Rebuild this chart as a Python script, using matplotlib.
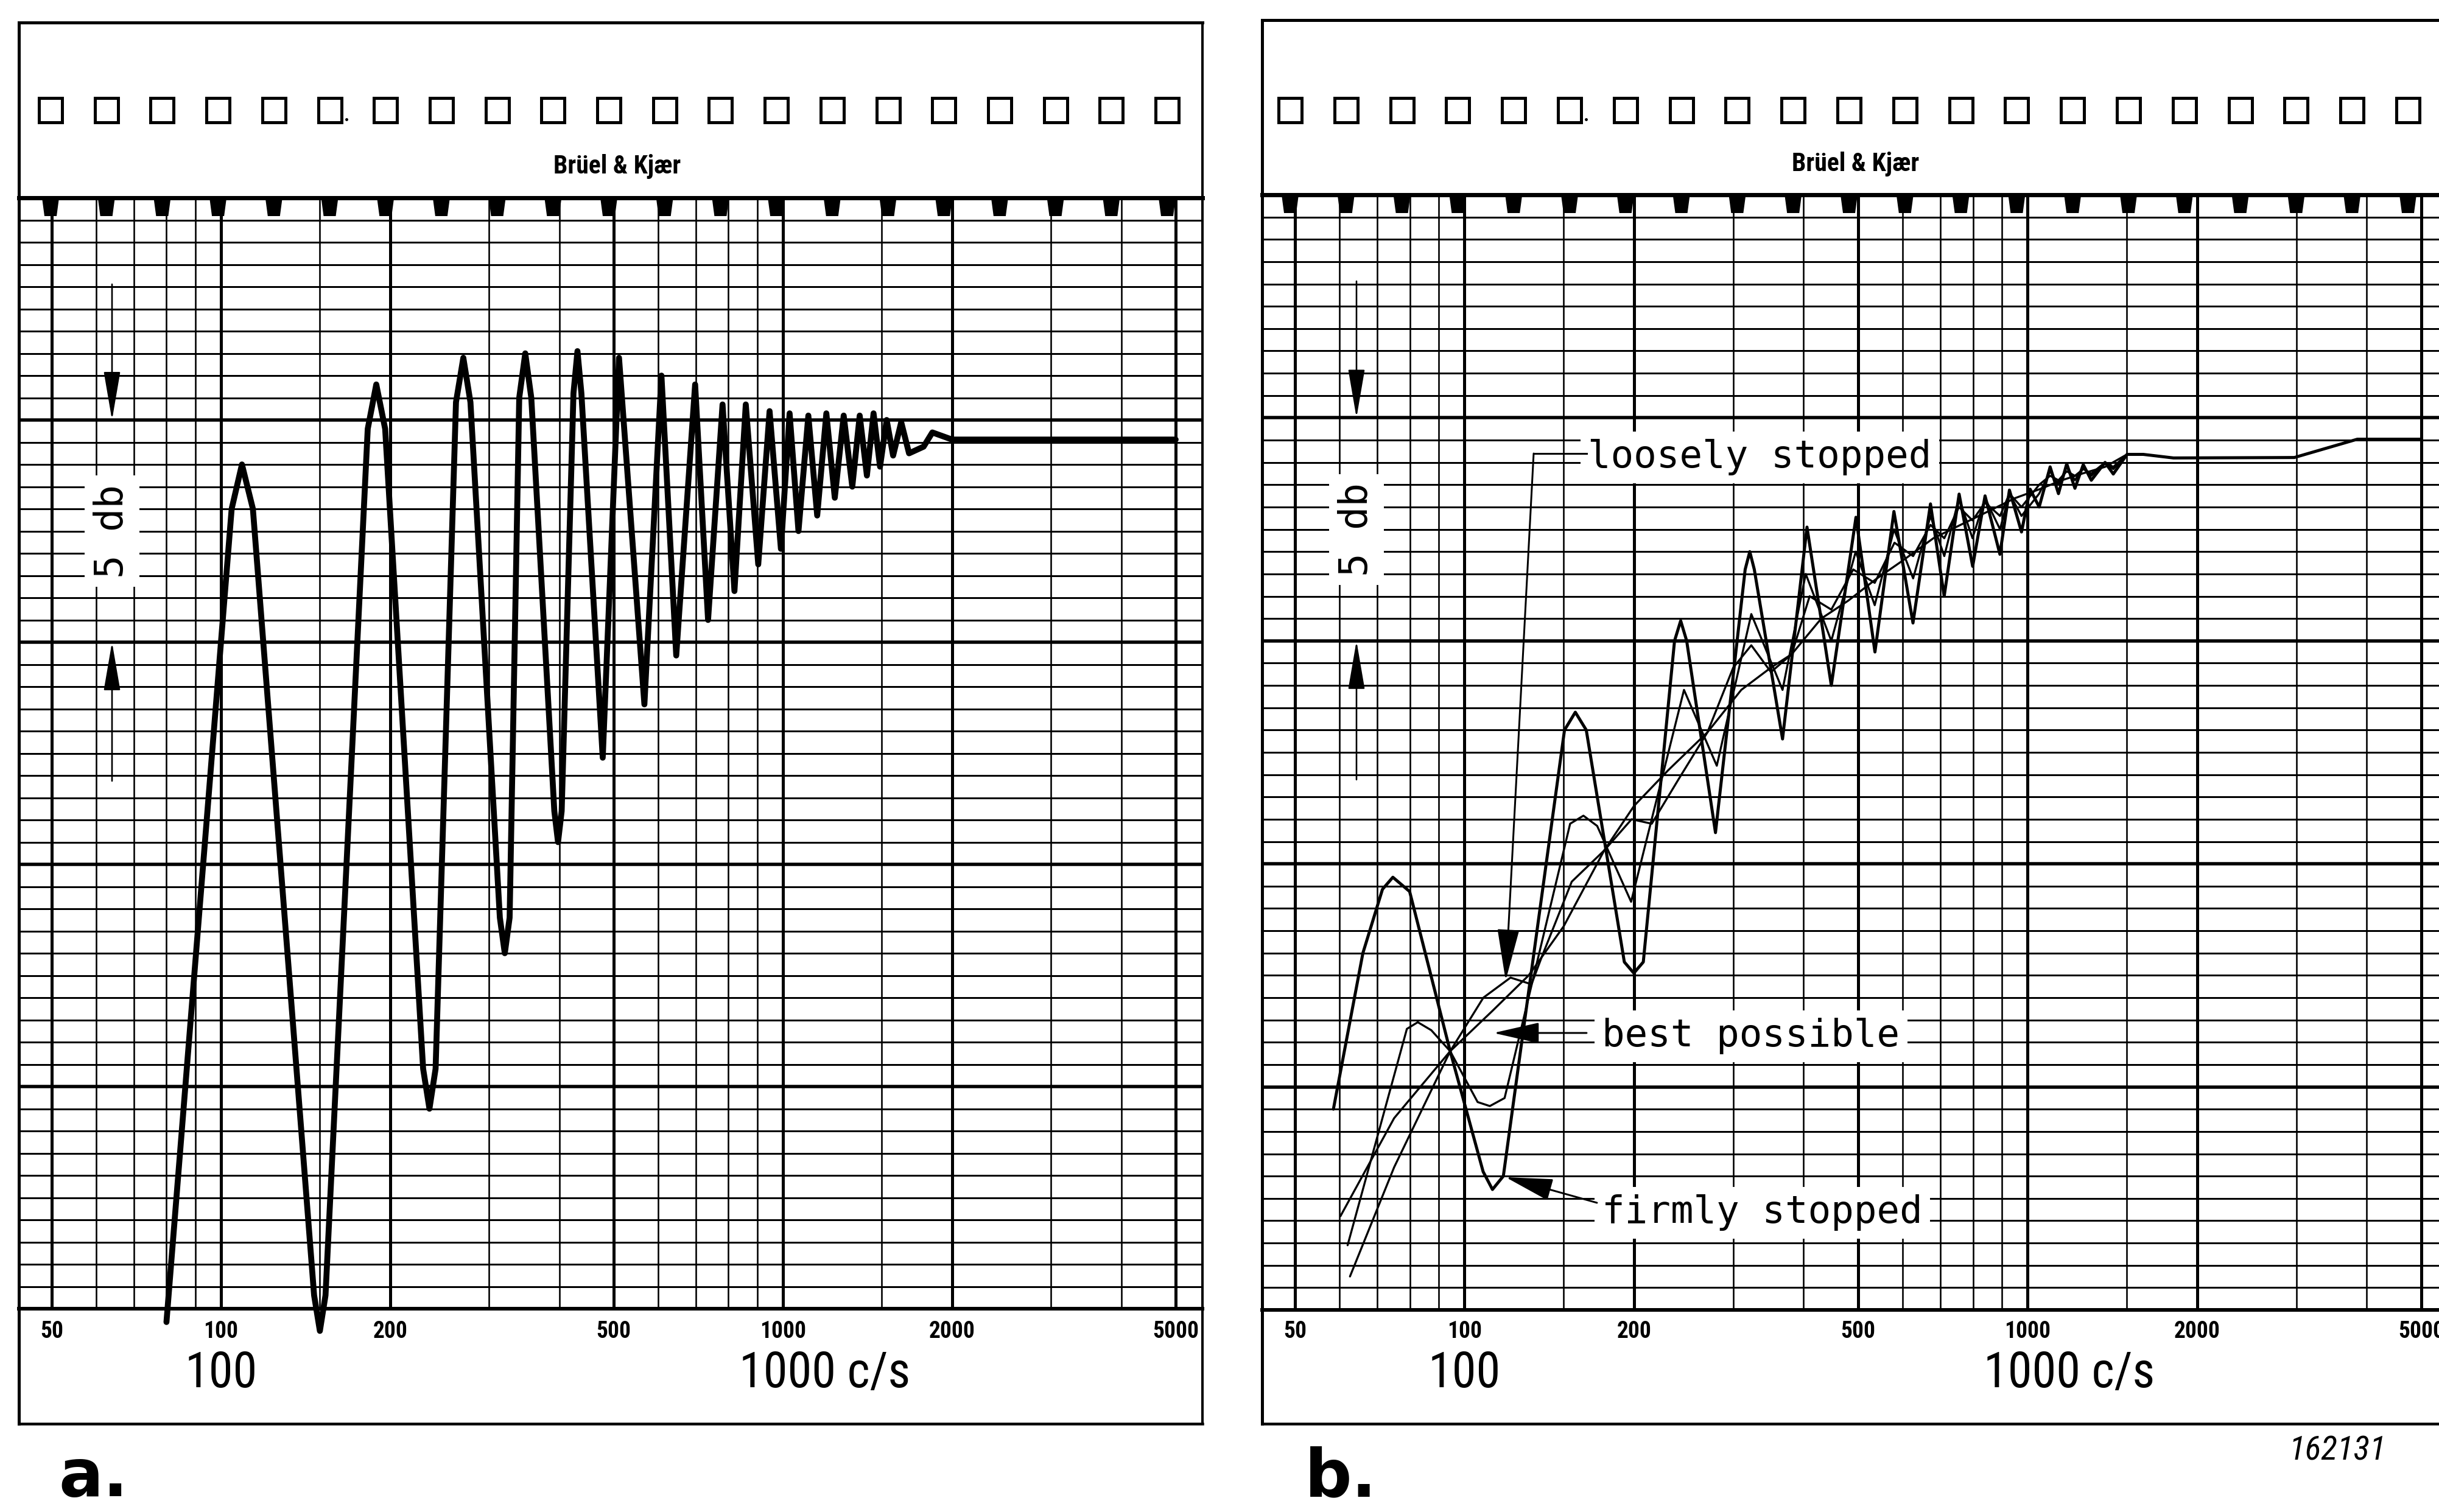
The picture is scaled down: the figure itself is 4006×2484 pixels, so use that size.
import matplotlib
matplotlib.use("Agg")
import matplotlib.pyplot as plt
from matplotlib import font_manager as fm
from matplotlib.patches import Rectangle, Polygon

# ---------------------------------------------------------------- data
grid_freqs = [50, 60, 70, 80, 90, 100, 150, 200, 300, 400, 500, 600, 700,
              800, 900, 1000, 1500, 2000, 3000, 4000, 5000]
heavy_freqs = [50, 100, 200, 500, 1000, 2000, 5000]
tick_freqs = [50, 100, 200, 500, 1000, 2000, 5000]
tick_labels = ["50", "100", "200", "500", "1000", "2000", "5000"]
grid_levels = [i * 0.5 for i in range(51)]          # 0 ... 25 dB chart paper

# a. open tube
freq_open = [80, 104.5, 109, 114, 146.5, 150, 153.5, 182.5, 189, 196, 229, 235, 241,
             262, 270, 278, 313.6, 320, 326.4, 339.5, 348, 356.7, 392, 398, 404,
             424, 431, 438, 478, 511, 567, 608, 646, 698, 736, 781, 820, 859, 904,
             947, 992, 1028, 1066, 1110, 1151, 1195, 1237, 1283, 1329, 1370, 1411,
             1450, 1489, 1530, 1571, 1624, 1677, 1780, 1845, 2000, 5000]
level_open = [-0.3, 18.0, 19.0, 18.0, 0.3, -0.5, 0.3, 19.8, 20.8, 19.8, 5.4, 4.5, 5.4,
              20.4, 21.4, 20.4, 8.8, 8.0, 8.8, 20.5, 21.5, 20.5, 11.2, 10.5, 11.2,
              20.6, 21.55, 20.6, 12.4, 21.4, 13.6, 21.0, 14.7, 20.8, 15.5, 20.35, 16.15,
              20.35, 16.75, 20.2, 17.1, 20.15, 17.5, 20.1, 17.85, 20.15, 18.25, 20.1,
              18.5, 20.1, 18.75, 20.15, 18.95, 20.0, 19.2, 19.95, 19.25, 19.4, 19.72,
              19.56, 19.56]

# b. stopped tube
freq_firm = [58.5, 66, 71.5, 74.6, 79.9, 94.3, 107.9, 112.1, 117.2, 150.5, 157.3, 164.5,
             192.2, 199.8, 207.7, 236, 242, 248, 279, 315, 321, 327, 367, 405.6, 448,
             495.5, 535.5, 578.7, 625.6, 672, 710.7, 755.5, 798.5, 840, 892.6, 928, 975,
             1010, 1048, 1096, 1134, 1173, 1213, 1255, 1297, 1372, 1419, 1501, 1604,
             1815, 2975, 3848, 5000]
level_firm = [4.5, 8.0, 9.43, 9.7, 9.38, 5.8, 3.1, 2.7, 3.0, 13.0, 13.4, 13.0,
              7.8, 7.55, 7.8, 15.0, 15.45, 15.0, 10.7, 16.6, 17.0, 16.6, 12.8, 17.55, 14.0,
              17.77, 14.75, 17.9, 15.4, 18.07, 16.0, 18.29, 16.67, 18.25, 16.94, 18.38, 17.44,
              18.4, 18.0, 18.9, 18.3, 18.97, 18.42, 18.95, 18.6, 19.0, 18.74, 19.18, 19.18,
              19.1, 19.11, 19.52, 19.52]

freq_mid = [62, 79, 82.6, 87.3, 94.3, 105.5, 110.9, 117.8, 154, 162.6, 172, 197.6, 245.3,
            280.5, 323, 367, 403.5, 448, 495, 535, 579, 626, 672, 711, 755, 798, 840,
            893, 928, 975, 1048, 1096, 1134, 1173, 1213, 1255, 1297, 1372, 1419, 1501,
            1604, 1815, 2975, 3848, 5000]
level_mid = [1.45, 6.3, 6.45, 6.27, 5.8, 4.66, 4.57, 4.75, 10.9, 11.08, 10.85, 9.15, 13.9,
             12.2, 15.6, 13.9, 16.5, 15.0, 17.0, 15.8, 17.5, 16.4, 17.8, 16.9, 18.2, 17.3,
             18.2, 17.5, 18.3, 17.8, 18.3, 18.8, 18.5, 18.9, 18.6, 18.9, 18.7, 19.0, 18.85,
             19.18, 19.18, 19.1, 19.11, 19.52, 19.52]

freq_loose = [60.2, 75, 94.3, 108, 120.7, 131.5, 137, 155, 177, 198, 215, 240, 270, 300,
              323, 350, 381, 410, 448, 490, 535, 580, 626, 672, 711, 755, 798, 840, 893,
              928, 975, 1048, 1096, 1134, 1173, 1213, 1255, 1297, 1372, 1419, 1501, 1604,
              1815, 2975, 3848, 5000]
level_loose = [2.1, 4.3, 5.8, 7.0, 7.45, 7.3, 7.9, 9.6, 10.3, 11.0, 10.9, 11.9, 12.95, 14.4,
               14.9, 14.3, 14.7, 16.0, 15.7, 16.6, 16.3, 17.2, 16.9, 17.6, 17.3, 18.0, 17.7,
               18.1, 17.8, 18.3, 18.0, 18.5, 18.7, 18.6, 18.8, 18.7, 18.85, 18.75, 19.0,
               18.9, 19.18, 19.18, 19.1, 19.11, 19.52, 19.52]

freq_best = [62.6, 75, 94.3, 112, 130, 150, 177, 200, 230, 270, 310, 350, 381, 430, 480,
             540, 600, 680, 760, 850, 950, 1050, 1150, 1250, 1372, 1501, 1604, 1815, 2975,
             3848, 5000]
level_best = [0.75, 3.2, 5.8, 6.7, 7.5, 8.6, 10.3, 11.3, 12.1, 12.95, 13.9, 14.4, 14.7, 15.5,
              15.9, 16.4, 16.8, 17.3, 17.6, 17.9, 18.2, 18.4, 18.6, 18.75, 18.9, 19.18, 19.18,
              19.1, 19.11, 19.52, 19.52]

labels_b = ["loosely stopped", "best possible", "firmly stopped"]


# ---------------------------------------------------------------- fonts
def has_font(name):
    try:
        fm.findfont(fm.FontProperties(family=name), fallback_to_default=False)
        return True
    except Exception:
        return False


NARROW, NSCALE = "DejaVu Sans", 0.8
for cand in ["Liberation Sans Narrow", "Roboto Condensed", "Archivo Narrow",
             "PT Sans Narrow", "Fira Sans Condensed", "IBM Plex Sans Condensed",
             "Barlow Condensed", "Encode Sans Condensed", "Asap Condensed",
             "Sofia Sans Condensed", "Saira Condensed", "Open Sans Condensed",
             "Ubuntu Condensed"]:
    if has_font(cand):
        NARROW, NSCALE = cand, 1.0
        break
MONO = "DejaVu Sans Mono"

# ---------------------------------------------------------------- figure
W, H, DPI = 4006, 2484, 100
PT = 72.0 / DPI
fig = plt.figure(figsize=(W / DPI, H / DPI), dpi=DPI)
fig.patch.set_facecolor("white")


def rect(x0, y0, x1, y1):
    return [x0 / W, 1 - y1 / H, (x1 - x0) / W, (y1 - y0) / H]


ov = fig.add_axes([0, 0, 1, 1], zorder=10)
ov.set_xlim(0, W)
ov.set_ylim(H, 0)
ov.axis("off")


def arrow(start, tip, hl, hw, lw=3.0):
    ov.annotate("", xy=tip, xytext=start, zorder=6, annotation_clip=False,
                arrowprops=dict(arrowstyle=f"-|>,head_length={hl * PT},head_width={hw * PT}",
                                color="k", lw=lw * PT, shrinkA=0, shrinkB=0,
                                mutation_scale=1))


panels = [
    dict(left=31, right=1975, top=37, head=325, grid=2150, bottom=2339, ref50=85, dec=923,
         sq0=83, sqstep=91.7, bk=(1014, 273), dbx=184, letter="a.", lx=96),
    dict(left=2073, right=4020, top=33, head=320, grid=2152, bottom=2339, ref50=2127, dec=925,
         sq0=2119, sqstep=91.8, bk=(3048, 270), dbx=2228, letter="b.", lx=2143),
]


def build_axes(p, curves):
    ax = fig.add_axes(rect(p["left"], p["head"], p["right"], p["grid"]), zorder=1)
    ax.set_xscale("log")
    ax.set_xlim(50 * 10 ** ((p["left"] - p["ref50"]) / p["dec"]),
                50 * 10 ** ((p["right"] - p["ref50"]) / p["dec"]))
    ax.set_ylim(0, 25)
    ax.axis("off")
    for lv in grid_levels:
        major = abs(lv % 5) < 1e-9
        ax.axhline(lv, color="k", lw=(5.5 if major else 3.0) * PT, zorder=1)
    for f in grid_freqs:
        ax.axvline(f, color="k", lw=(5.0 if f in heavy_freqs else 2.6) * PT, zorder=1)
    for fr, lv, lw in curves:
        ax.plot(fr, lv, color="k", lw=lw, solid_joinstyle="round",
                solid_capstyle="round", clip_on=False, zorder=3)
    span = p["grid"] - p["head"]

    def yax(ypx):
        return (p["grid"] - ypx) / span

    tr = ax.get_xaxis_transform()
    for f, lab in zip(tick_freqs, tick_labels):
        ax.text(f, yax(2188), lab, transform=tr, ha="center", va="center",
                fontsize=27 * NSCALE, family=NARROW, fontweight="bold")
    ax.text(100, yax(2257), "100", transform=tr, ha="center", va="center",
            fontsize=58 * NSCALE, family=NARROW)
    ax.annotate("1000 c/s", xy=(1000, yax(2257)), xycoords=tr,
                xytext=(-72 * PT, 0), textcoords="offset points", ha="left",
                va="center", fontsize=58 * NSCALE, family=NARROW, annotation_clip=False)
    return ax


def decorate(p):
    L, R, T, Hd, G, B = p["left"], p["right"], p["top"], p["head"], p["grid"], p["bottom"]
    ov.plot([L, R], [T, T], color="k", lw=5 * PT)
    ov.plot([L, L], [T, B], color="k", lw=5 * PT)
    ov.plot([R, R], [T, B], color="k", lw=4 * PT)
    ov.plot([L, R], [B, B], color="k", lw=4.5 * PT)
    ov.plot([L, R], [Hd, Hd], color="k", lw=7 * PT)
    ov.plot([L, R], [G, G], color="k", lw=6 * PT)
    for i in range(21):
        cx = p["sq0"] + i * p["sqstep"]
        ov.add_patch(Rectangle((cx - 19, 161), 38, 40, fill=False, ec="k", lw=5 * PT))
        ov.add_patch(Polygon([(cx - 14, Hd), (cx + 14, Hd), (cx + 10, Hd + 30),
                              (cx - 10, Hd + 30)], closed=True, fc="k", ec="k", lw=0))
    c6 = p["sq0"] + 5 * p["sqstep"]
    ov.plot([c6 + 27], [196], "k.", ms=5)
    ov.text(p["bk"][0], p["bk"][1], "Brüel & Kjær", ha="center", va="center",
            fontsize=30 * NSCALE, family=NARROW, fontweight="bold")
    s = (G - Hd) / 25.0
    y20 = G - 20 * s
    y15 = G - 15 * s
    x = p["dbx"]
    arrow((x, Hd + 142), (x, y20), 70, 12, 2.6)
    arrow((x, y15 + 228), (x, y15), 70, 12, 2.6)
    ov.text(x, (y20 + y15) / 2, "5 db", rotation=90, ha="center", va="center",
            fontsize=46, family=MONO, zorder=5,
            bbox=dict(fc="white", ec="none", pad=10))
    ov.text(p["lx"], 2458, p["letter"], ha="left", va="baseline", fontsize=78,
            fontweight="bold", family="DejaVu Sans")


# panel a
build_axes(panels[0], [(freq_open, level_open, 7.0)])
decorate(panels[0])

# panel b
build_axes(panels[1], [(freq_best, level_best, 2.4),
                       (freq_loose, level_loose, 2.4),
                       (freq_mid, level_mid, 2.4),
                       (freq_firm, level_firm, 3.6)])
decorate(panels[1])

txt_kw = dict(ha="left", va="center", fontsize=45, family=MONO, zorder=5,
              bbox=dict(fc="white", ec="none", pad=9))
ov.text(2608, 751, labels_b[0], **txt_kw)
ov.plot([2606, 2519], [745, 745], color="k", lw=3 * PT, zorder=6)
arrow((2519, 745), (2473, 1611), 75, 16)
ov.text(2631, 1702, labels_b[1], **txt_kw)
arrow((2606, 1697), (2453, 1697), 66, 15)
ov.text(2631, 1992, labels_b[2], **txt_kw)
arrow((2623, 1976), (2473, 1934), 68, 16)

ov.text(3839, 2383, "162131", ha="center", va="center", fontsize=40 * NSCALE,
        family=NARROW, style="italic")

fig.savefig("out.png", dpi=DPI, facecolor="white")
